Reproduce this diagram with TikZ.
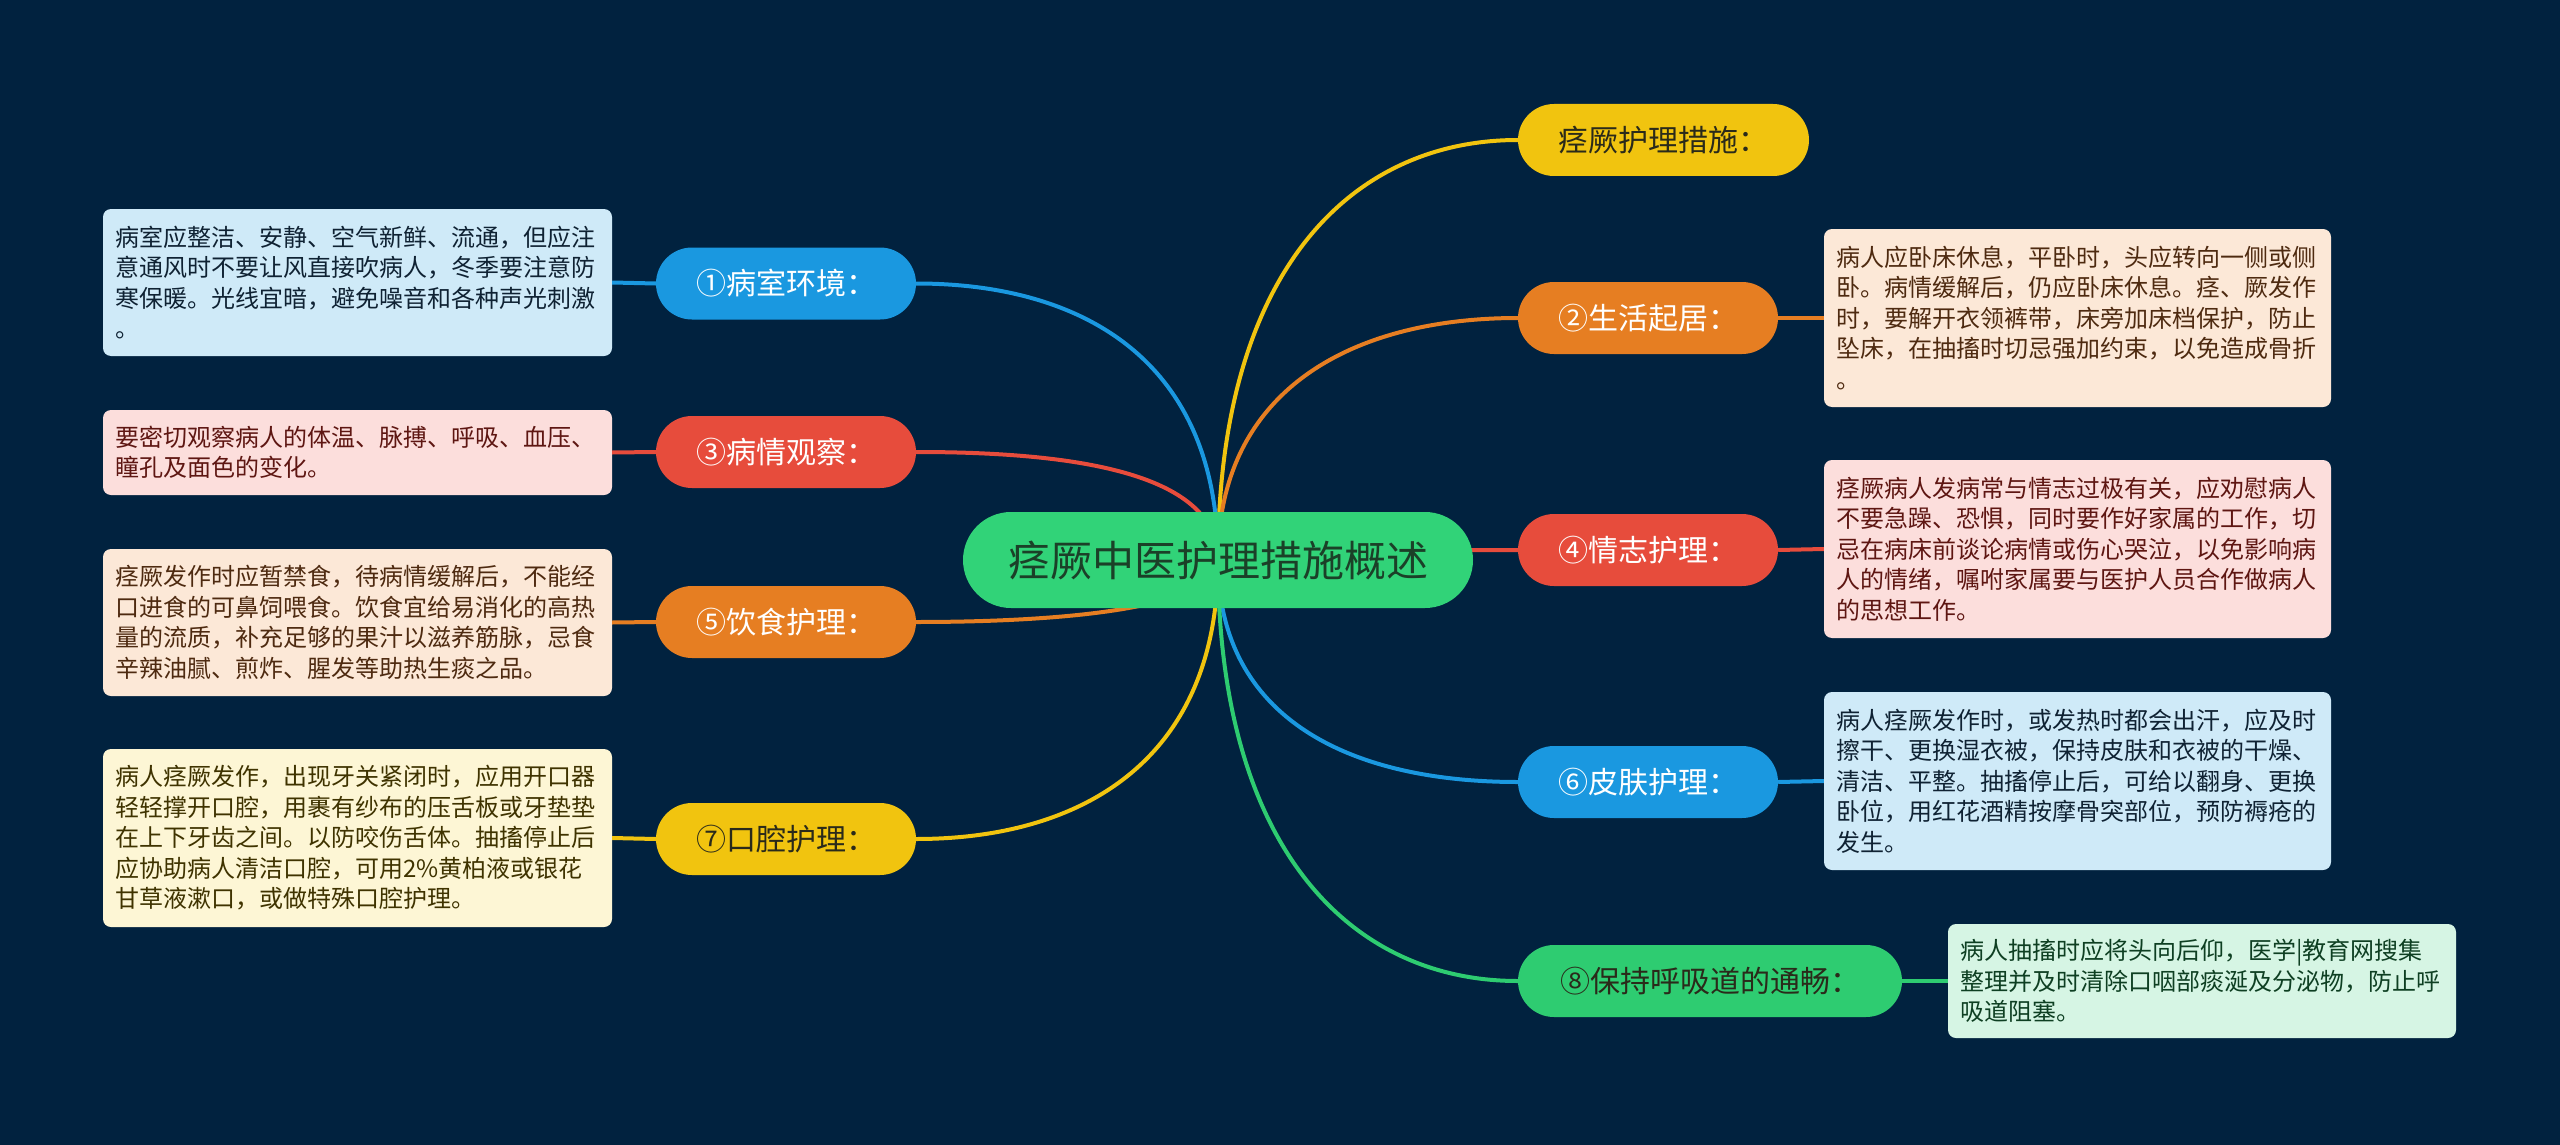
\documentclass[tikz,border=0pt]{standalone}
\usepackage{fontspec}
\setmainfont{Noto Sans CJK SC}
\usetikzlibrary{shapes.misc}
\definecolor{bg}{HTML}{01223F}
\definecolor{cyel}{HTML}{F1C40F}
\definecolor{cblu}{HTML}{1A98E0}
\definecolor{cora}{HTML}{E67E22}
\definecolor{cred}{HTML}{E74C3C}
\definecolor{cgrn}{HTML}{2ECC71}
\definecolor{rootfill}{HTML}{31D378}
\definecolor{roottext}{HTML}{1B4028}
\definecolor{darktext}{HTML}{2A2A1A}
\definecolor{lblu}{HTML}{CFEAF8}
\definecolor{tblu}{HTML}{0F2233}
\definecolor{lpnk}{HTML}{FCDEDC}
\definecolor{tpnk}{HTML}{5E1612}
\definecolor{lpch}{HTML}{FCE8D7}
\definecolor{tpch}{HTML}{4E2A10}
\definecolor{lyel}{HTML}{FDF6D5}
\definecolor{tyel}{HTML}{3F3300}
\definecolor{lgrn}{HTML}{D6F5E4}
\definecolor{tgrn}{HTML}{0E3F22}
\tikzset{
  branch/.style={rounded rectangle, minimum height=72pt, inner sep=0pt,
    font=\fontsize{30pt}{36pt}\selectfont},
  leaf/.style={rectangle, rounded corners=8pt, inner sep=0pt, align=left,
    font=\fontsize{24pt}{30.5pt}\selectfont},
  conn/.style={line width=4pt},
}
\begin{document}
\begin{tikzpicture}[x=1pt,y=-1pt]
\fill[bg] (0,0) rectangle (2560,1145);
\useasboundingbox (0,0) rectangle (2560,1145);

% branch nodes
\node[branch, fill=cyel, text=darktext, minimum width=291pt] (b0) at (1663.5,140) {痉厥护理措施：};
\node[branch, fill=cblu, text=white, minimum width=260pt] (b1) at (786,283.5) {①病室环境：};
\node[branch, fill=cora, text=white, minimum width=260pt] (b2) at (1648,318) {②生活起居：};
\node[branch, fill=cred, text=white, minimum width=260pt] (b3) at (786,452) {③病情观察：};
\node[branch, fill=cred, text=white, minimum width=260pt] (b4) at (1648,550) {④情志护理：};
\node[branch, fill=cora, text=white, minimum width=260pt] (b5) at (786,622) {⑤饮食护理：};
\node[branch, fill=cblu, text=white, minimum width=260pt] (b6) at (1648,782) {⑥皮肤护理：};
\node[branch, fill=cyel, text=darktext, minimum width=260pt] (b7) at (786,839) {⑦口腔护理：};
\node[branch, fill=cgrn, text=darktext, minimum width=384pt] (b8) at (1710,981) {⑧保持呼吸道的通畅：};

% leaves
\node[leaf, fill=lblu, text=tblu, minimum width=509pt, minimum height=147pt, text width=485pt] (l1) at (357.5,282.5)
 {病室应整洁、安静、空气新鲜、流通，但应注\\意通风时不要让风直接吹病人，冬季要注意防\\寒保暖。光线宜暗，避免噪音和各种声光刺激\\。};
\node[leaf, fill=lpnk, text=tpnk, minimum width=509pt, minimum height=85pt, text width=485pt] (l3) at (357.5,452.5)
 {要密切观察病人的体温、脉搏、呼吸、血压、\\瞳孔及面色的变化。};
\node[leaf, fill=lpch, text=tpch, minimum width=509pt, minimum height=147pt, text width=485pt] (l5) at (357.5,622.5)
 {痉厥发作时应暂禁食，待病情缓解后，不能经\\口进食的可鼻饲喂食。饮食宜给易消化的高热\\量的流质，补充足够的果汁以滋养筋脉，忌食\\辛辣油腻、煎炸、腥发等助热生痰之品。};
\node[leaf, fill=lyel, text=tyel, minimum width=509pt, minimum height=178pt, text width=485pt] (l7) at (357.5,838)
 {病人痉厥发作，出现牙关紧闭时，应用开口器\\轻轻撑开口腔，用裹有纱布的压舌板或牙垫垫\\在上下牙齿之间。以防咬伤舌体。抽搐停止后\\应协助病人清洁口腔，可用2\%黄柏液或银花\\甘草液漱口，或做特殊口腔护理。};
\node[leaf, fill=lpch, text=tpch, minimum width=507pt, minimum height=178pt, text width=483pt] (l2) at (2077.5,318)
 {病人应卧床休息，平卧时，头应转向一侧或侧\\卧。病情缓解后，仍应卧床休息。痉、厥发作\\时，要解开衣领裤带，床旁加床档保护，防止\\坠床，在抽搐时切忌强加约束，以免造成骨折\\。};
\node[leaf, fill=lpnk, text=tpnk, minimum width=507pt, minimum height=178pt, text width=483pt] (l4) at (2077.5,549)
 {痉厥病人发病常与情志过极有关，应劝慰病人\\不要急躁、恐惧，同时要作好家属的工作，切\\忌在病床前谈论病情或伤心哭泣，以免影响病\\人的情绪，嘱咐家属要与医护人员合作做病人\\的思想工作。};
\node[leaf, fill=lblu, text=tblu, minimum width=507pt, minimum height=178pt, text width=483pt] (l6) at (2077.5,781)
 {病人痉厥发作时，或发热时都会出汗，应及时\\擦干、更换湿衣被，保持皮肤和衣被的干燥、\\清洁、平整。抽搐停止后，可给以翻身、更换\\卧位，用红花酒精按摩骨突部位，预防褥疮的\\发生。};
\node[leaf, fill=lgrn, text=tgrn, minimum width=508pt, minimum height=114pt, text width=484pt] (l8) at (2202,981)
 {病人抽搐时应将头向后仰，医学|教育网搜集\\整理并及时清除口咽部痰涎及分泌物，防止呼\\吸道阻塞。};

% branch to leaf connectors
\draw[conn, cblu] (b1.west) -- (l1.east);
\draw[conn, cred] (b3.west) -- (l3.east);
\draw[conn, cora] (b5.west) -- (l5.east);
\draw[conn, cyel] (b7.west) -- (l7.east);
\draw[conn, cora] (b2.east) -- (l2.west);
\draw[conn, cred] (b4.east) -- (l4.west);
\draw[conn, cblu] (b6.east) -- (l6.west);
\draw[conn, cgrn] (b8.east) -- (l8.west);

% root to branch curves
\coordinate (rc) at (1218,560);
\draw[conn, cyel] (rc) .. controls +(0,-290) and +(-166,0) .. (b0.west);
\draw[conn, cblu] (rc) .. controls +(0,-200) and +(166,0) .. (b1.east);
\draw[conn, cora] (rc) .. controls +(0,-170) and +(-166,0) .. (b2.west);
\draw[conn, cred] (rc) .. controls +(0,-85) and +(166,0) .. (b3.east);
\draw[conn, cred] (rc) .. controls +(0,-6) and +(-166,0) .. (b4.west);
\draw[conn, cora] (rc) .. controls +(0,45) and +(166,0) .. (b5.east);
\draw[conn, cblu] (rc) .. controls +(0,160) and +(-166,0) .. (b6.west);
\draw[conn, cyel] (rc) .. controls +(0,200) and +(166,0) .. (b7.east);
\draw[conn, cgrn] (rc) .. controls +(0,290) and +(-166,0) .. (b8.west);

% root
\node[rounded rectangle, fill=rootfill, text=roottext, minimum width=510pt, minimum height=96pt, inner sep=0pt,
  font=\fontsize{42pt}{48pt}\selectfont] (root) at (rc) {痉厥中医护理措施概述};
\end{tikzpicture}
\end{document}
